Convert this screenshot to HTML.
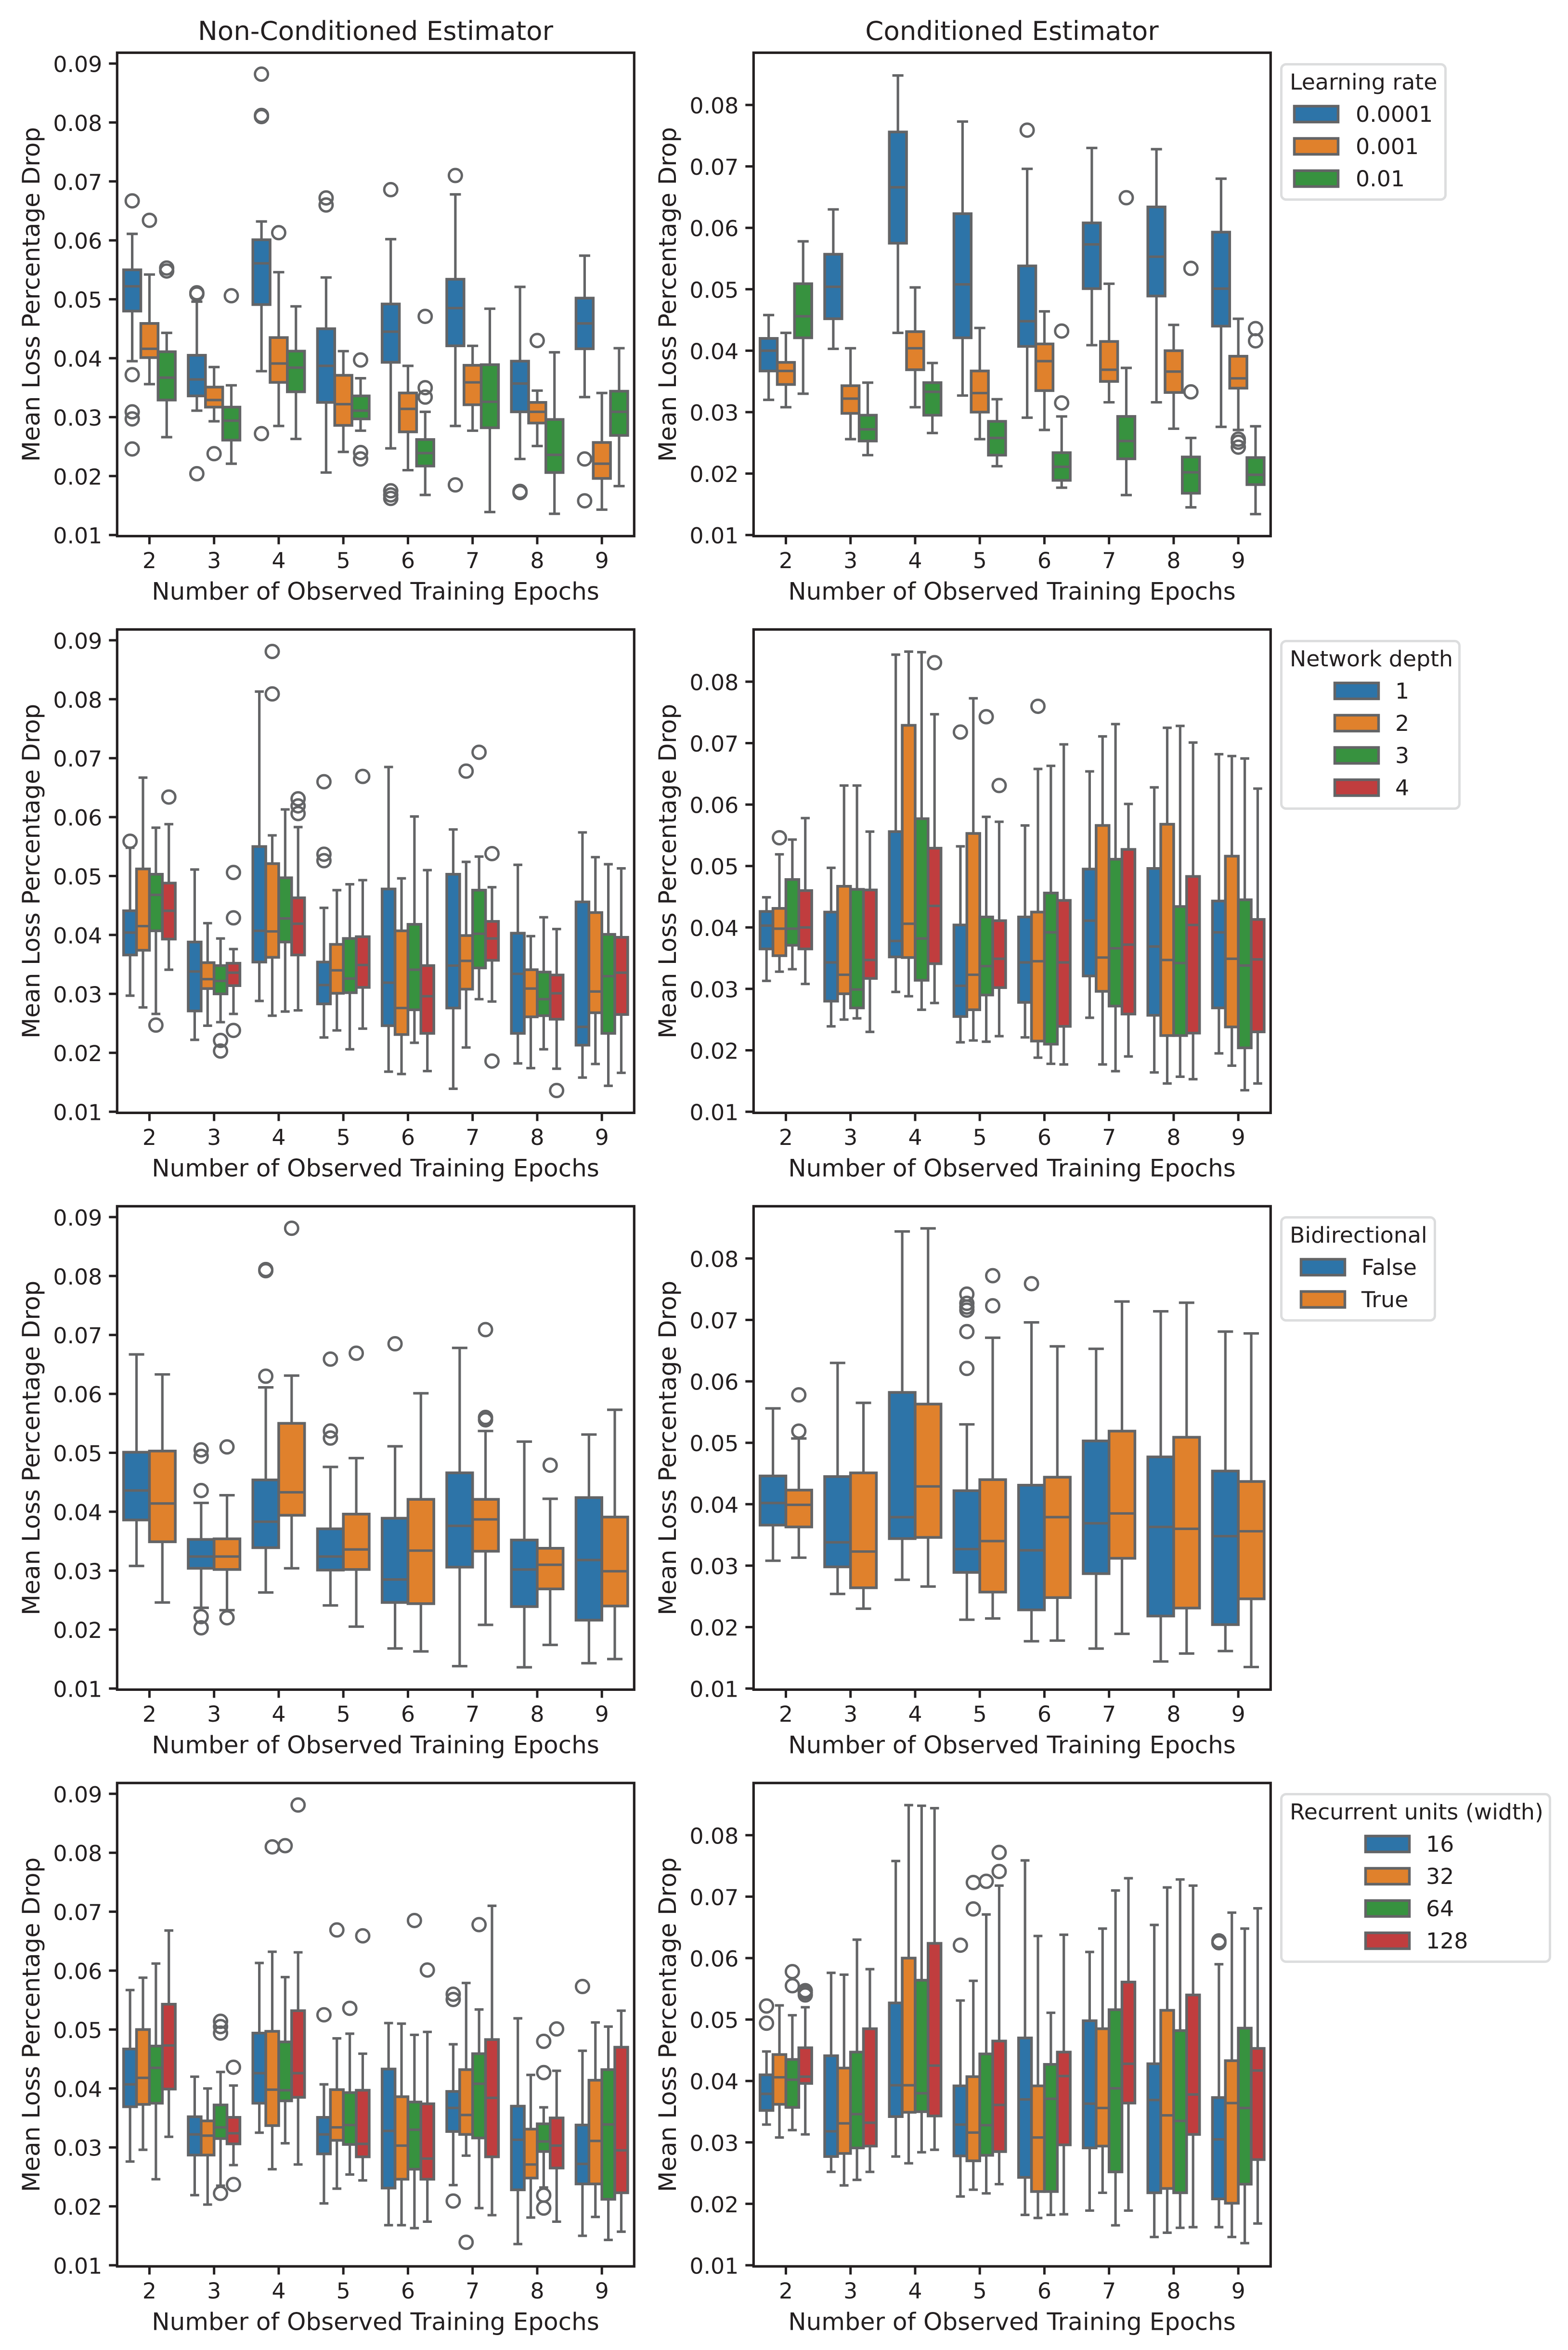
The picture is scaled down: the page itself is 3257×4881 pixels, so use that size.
<!DOCTYPE html>
<html lang="en">
<head>
<meta charset="utf-8">
<title>Mean Loss Percentage Drop by Observed Training Epochs</title>
<style>
html,body{margin:0;padding:0;background:#fff;}
svg{display:block;}
text{font-family:"DejaVu Sans","Liberation Sans",sans-serif;fill:#231f20;}
.title{font-size:54.6px;text-anchor:middle;}
.axis-label{font-size:50px;text-anchor:middle;}
.leg{font-size:45.8px;}
.leg-frame{fill:#fff;stroke:#dcddde;stroke-width:5;}
.leg-patch{stroke:#636466;stroke-width:5.5;}
</style>
</head>
<body>
<svg id="figure" xmlns="http://www.w3.org/2000/svg" width="3257" height="4881" viewBox="0 0 3257 4881">
<rect width="3257" height="4881" fill="#fff"/>
<g id="plots"></g>

<text class="title" x="780" y="83">Non-Conditioned Estimator</text>
<text class="title" x="2102" y="83">Conditioned Estimator</text>

<text class="axis-label" x="780" y="1245.7">Number of Observed Training Epochs</text>
<text class="axis-label" x="2102" y="1245.7">Number of Observed Training Epochs</text>
<text class="axis-label" x="780" y="2443.7">Number of Observed Training Epochs</text>
<text class="axis-label" x="2102" y="2443.7">Number of Observed Training Epochs</text>
<text class="axis-label" x="780" y="3641.7">Number of Observed Training Epochs</text>
<text class="axis-label" x="2102" y="3641.7">Number of Observed Training Epochs</text>
<text class="axis-label" x="780" y="4839.7">Number of Observed Training Epochs</text>
<text class="axis-label" x="2102" y="4839.7">Number of Observed Training Epochs</text>

<text class="axis-label" transform="translate(82 611.5) rotate(-90)">Mean Loss Percentage Drop</text>
<text class="axis-label" transform="translate(1404 611.5) rotate(-90)">Mean Loss Percentage Drop</text>
<text class="axis-label" transform="translate(82 1809.4) rotate(-90)">Mean Loss Percentage Drop</text>
<text class="axis-label" transform="translate(1404 1809.4) rotate(-90)">Mean Loss Percentage Drop</text>
<text class="axis-label" transform="translate(82 3007.4) rotate(-90)">Mean Loss Percentage Drop</text>
<text class="axis-label" transform="translate(1404 3007.4) rotate(-90)">Mean Loss Percentage Drop</text>
<text class="axis-label" transform="translate(82 4205.3) rotate(-90)">Mean Loss Percentage Drop</text>
<text class="axis-label" transform="translate(1404 4205.3) rotate(-90)">Mean Loss Percentage Drop</text>

<g>
<rect class="leg-frame" x="2661.5" y="133.5" width="341" height="281" rx="10"/>
<text class="leg" x="2679" y="186">Learning rate</text>
<rect class="leg-patch" x="2688.5" y="220.5" width="91" height="33" fill="#2d74a8"/>
<text class="leg" x="2816" y="253">0.0001</text>
<rect class="leg-patch" x="2688.5" y="287.5" width="91" height="33" fill="#e0812c"/>
<text class="leg" x="2816" y="320">0.001</text>
<rect class="leg-patch" x="2688.5" y="354.5" width="91" height="33" fill="#37923f"/>
<text class="leg" x="2816" y="387">0.01</text>
</g>

<g>
<rect class="leg-frame" x="2661.5" y="1331.5" width="370" height="348" rx="10"/>
<text class="leg" x="2679" y="1384">Network depth</text>
<rect class="leg-patch" x="2772.5" y="1418.5" width="91" height="33" fill="#2d74a8"/>
<text class="leg" x="2898" y="1451">1</text>
<rect class="leg-patch" x="2772.5" y="1485.5" width="91" height="33" fill="#e0812c"/>
<text class="leg" x="2898" y="1518">2</text>
<rect class="leg-patch" x="2772.5" y="1552.5" width="91" height="33" fill="#37923f"/>
<text class="leg" x="2898" y="1585">3</text>
<rect class="leg-patch" x="2772.5" y="1619.5" width="91" height="33" fill="#c03d3e"/>
<text class="leg" x="2898" y="1652">4</text>
</g>

<g>
<rect class="leg-frame" x="2661.5" y="2528.5" width="319" height="214" rx="10"/>
<text class="leg" x="2679" y="2581">Bidirectional</text>
<rect class="leg-patch" x="2702.5" y="2615.5" width="91" height="33" fill="#2d74a8"/>
<text class="leg" x="2828" y="2648">False</text>
<rect class="leg-patch" x="2702.5" y="2682.5" width="91" height="33" fill="#e0812c"/>
<text class="leg" x="2828" y="2715">True</text>
</g>

<g>
<rect class="leg-frame" x="2661.5" y="3726.5" width="558" height="348" rx="10"/>
<text class="leg" x="2679" y="3779">Recurrent units (width)</text>
<rect class="leg-patch" x="2836.5" y="3813.5" width="91" height="33" fill="#2d74a8"/>
<text class="leg" x="2962" y="3846">16</text>
<rect class="leg-patch" x="2836.5" y="3880.5" width="91" height="33" fill="#e0812c"/>
<text class="leg" x="2962" y="3913">32</text>
<rect class="leg-patch" x="2836.5" y="3947.5" width="91" height="33" fill="#37923f"/>
<text class="leg" x="2962" y="3980">64</text>
<rect class="leg-patch" x="2836.5" y="4014.5" width="91" height="33" fill="#c03d3e"/>
<text class="leg" x="2962" y="4047">128</text>
</g>
</svg>

<script>
// Shared categories and tick labels
const epochLabels = ['2','3','4','5','6','7','8','9'];
const leftTickLabels = ['0.01','0.02','0.03','0.04','0.05','0.06','0.07','0.08','0.09'];
const rightTickLabels = ['0.01','0.02','0.03','0.04','0.05','0.06','0.07','0.08'];

// Each row: [whisker low, q1, median, q3, whisker high, outliers], one row per epoch.
// Row 1, non-conditioned, by learning rate
const nonCondLr0001 = [
[.0395,.0480,.0522,.0550,.0611,[.0667,.0372,.0309,.0297,.0246]],
[.0311,.0336,.0364,.0405,.0496,[.0511,.0509,.0204]],
[.0378,.0491,.0561,.0601,.0632,[.0882,.0812,.0810,.0272]],
[.0206,.0325,.0387,.0450,.0537,[.0672,.0660]],
[.0247,.0393,.0445,.0492,.0602,[.0686,.0175,.0168,.0162]],
[.0285,.0421,.0485,.0534,.0678,[.0710,.0185]],
[.0229,.0309,.0357,.0395,.0521,[.0174,.0172]],
[.0334,.0416,.0459,.0502,.0574,[.0229,.0158]]];
const nonCondLr001 = [
[.0356,.0401,.0416,.0459,.0542,[.0634]],
[.0293,.0317,.0329,.0351,.0385,[.0238]],
[.0285,.0359,.0391,.0435,.0546,[.0613]],
[.0241,.0286,.0322,.0371,.0412,[]],
[.0210,.0275,.0314,.0341,.0387,[]],
[.0277,.0321,.0359,.0388,.0421,[]],
[.0251,.0290,.0309,.0325,.0345,[.0430]],
[.0143,.0196,.0221,.0257,.0341,[]]];
const nonCondLr01 = [
[.0266,.0329,.0367,.0411,.0443,[.0553,.0548]],
[.0221,.0261,.0294,.0317,.0354,[.0506]],
[.0263,.0343,.0384,.0412,.0488,[]],
[.0277,.0297,.0311,.0336,.0366,[.0397,.0240,.0229]],
[.0168,.0217,.0239,.0262,.0309,[.0471,.0350,.0334]],
[.0139,.0282,.0326,.0389,.0484,[]],
[.0136,.0206,.0236,.0296,.0410,[]],
[.0183,.0269,.0309,.0344,.0417,[]]];

// Row 1, conditioned, by learning rate
const condLr0001 = [
[.0320,.0367,.0400,.0420,.0458,[]],
[.0403,.0452,.0504,.0557,.0630,[]],
[.0429,.0575,.0666,.0756,.0848,[]],
[.0327,.0421,.0508,.0623,.0773,[]],
[.0291,.0407,.0448,.0538,.0696,[.0759]],
[.0409,.0501,.0573,.0608,.0730,[]],
[.0316,.0489,.0553,.0634,.0728,[]],
[.0276,.0440,.0501,.0593,.0680,[]]];
const condLr001 = [
[.0308,.0345,.0367,.0381,.0429,[]],
[.0256,.0298,.0322,.0343,.0404,[]],
[.0308,.0369,.0404,.0431,.0503,[]],
[.0256,.0300,.0331,.0367,.0437,[]],
[.0271,.0335,.0383,.0411,.0464,[]],
[.0316,.0350,.0369,.0415,.0509,[]],
[.0273,.0332,.0366,.0400,.0442,[]],
[.0271,.0339,.0355,.0391,.0452,[.0256,.0251,.0243]]];
const condLr01 = [
[.0330,.0421,.0456,.0509,.0578,[]],
[.0230,.0253,.0272,.0295,.0348,[]],
[.0266,.0295,.0333,.0348,.0380,[]],
[.0212,.0230,.0258,.0285,.0321,[]],
[.0177,.0189,.0211,.0234,.0293,[.0432,.0315]],
[.0165,.0224,.0253,.0293,.0372,[.0649]],
[.0145,.0168,.0202,.0227,.0258,[.0534,.0333]],
[.0134,.0182,.0198,.0226,.0277,[.0436,.0416]]];

// Row 2, non-conditioned, by network depth
const nonCondDepth1 = [
[.0297,.0366,.0404,.0441,.0548,[.0559]],
[.0222,.0271,.0338,.0388,.0511,[]],
[.0288,.0354,.0407,.0550,.0813,[]],
[.0226,.0283,.0315,.0354,.0446,[.0660,.0537,.0526]],
[.0168,.0246,.0319,.0478,.0685,[]],
[.0139,.0276,.0348,.0503,.0579,[]],
[.0182,.0233,.0334,.0403,.0519,[]],
[.0158,.0213,.0244,.0456,.0574,[]]];
const nonCondDepth2 = [
[.0277,.0374,.0415,.0512,.0667,[]],
[.0246,.0309,.0325,.0353,.0420,[]],
[.0263,.0362,.0406,.0521,.0569,[.0881,.0809]],
[.0238,.0301,.0340,.0384,.0476,[]],
[.0164,.0231,.0276,.0407,.0496,[]],
[.0209,.0308,.0356,.0399,.0524,[.0678]],
[.0174,.0261,.0309,.0341,.0398,[]],
[.0181,.0268,.0304,.0438,.0532,[]]];
const nonCondDepth3 = [
[.0266,.0407,.0468,.0503,.0582,[.0247]],
[.0252,.0300,.0322,.0348,.0394,[.0221,.0203]],
[.0270,.0388,.0428,.0497,.0613,[]],
[.0206,.0302,.0326,.0394,.0486,[]],
[.0217,.0273,.0341,.0418,.0601,[]],
[.0291,.0344,.0402,.0476,.0533,[.0710]],
[.0206,.0263,.0291,.0337,.0430,[]],
[.0144,.0233,.0330,.0401,.0520,[]]];
const nonCondDepth4 = [
[.0341,.0393,.0441,.0488,.0588,[.0634]],
[.0266,.0314,.0336,.0352,.0376,[.0506,.0429,.0238]],
[.0272,.0366,.0419,.0463,.0583,[.0631,.0619,.0606]],
[.0241,.0311,.0349,.0397,.0493,[.0669]],
[.0169,.0233,.0296,.0348,.0510,[]],
[.0287,.0357,.0394,.0423,.0481,[.0538,.0186]],
[.0173,.0257,.0301,.0332,.0410,[.0136]],
[.0166,.0265,.0336,.0396,.0513,[]]];

// Row 2, conditioned, by network depth
const condDepth1 = [
[.0313,.0365,.0403,.0426,.0449,[]],
[.0239,.0280,.0343,.0425,.0497,[]],
[.0295,.0352,.0378,.0556,.0844,[]],
[.0213,.0255,.0305,.0404,.0532,[.0718]],
[.0221,.0278,.0343,.0417,.0566,[]],
[.0253,.0321,.0411,.0495,.0654,[]],
[.0164,.0257,.0369,.0496,.0628,[]],
[.0195,.0269,.0392,.0443,.0682,[]]];
const condDepth2 = [
[.0328,.0354,.0398,.0431,.0519,[.0546]],
[.0250,.0292,.0323,.0467,.0631,[]],
[.0288,.0351,.0406,.0729,.0849,[]],
[.0216,.0266,.0323,.0553,.0773,[]],
[.0188,.0215,.0345,.0425,.0658,[.0760]],
[.0177,.0296,.0351,.0566,.0711,[]],
[.0146,.0224,.0347,.0568,.0725,[]],
[.0175,.0238,.0349,.0516,.0679,[]]];
const condDepth3 = [
[.0332,.0371,.0398,.0478,.0543,[]],
[.0252,.0269,.0299,.0462,.0631,[]],
[.0266,.0314,.0382,.0577,.0848,[]],
[.0214,.0290,.0337,.0417,.0580,[.0743]],
[.0178,.0210,.0392,.0456,.0663,[]],
[.0166,.0272,.0366,.0511,.0731,[]],
[.0157,.0224,.0342,.0434,.0728,[]],
[.0135,.0204,.0338,.0445,.0675,[]]];
const condDepth4 = [
[.0308,.0365,.0400,.0460,.0578,[]],
[.0230,.0317,.0347,.0461,.0556,[]],
[.0277,.0341,.0435,.0529,.0747,[.0831]],
[.0223,.0302,.0349,.0411,.0572,[.0631]],
[.0177,.0239,.0343,.0444,.0698,[]],
[.0190,.0259,.0372,.0527,.0601,[]],
[.0153,.0228,.0404,.0483,.0701,[]],
[.0146,.0230,.0348,.0413,.0626,[]]];

// Row 3, non-conditioned, by bidirectional
const nonCondBiFalse = [
[.0308,.0386,.0436,.0501,.0667,[]],
[.0237,.0304,.0324,.0353,.0415,[.0505,.0494,.0436,.0222,.0203]],
[.0263,.0339,.0383,.0454,.0611,[.0811,.0809,.0630]],
[.0241,.0301,.0324,.0371,.0476,[.0659,.0537,.0525]],
[.0168,.0246,.0285,.0389,.0511,[.0685]],
[.0138,.0306,.0376,.0466,.0678,[]],
[.0136,.0239,.0302,.0352,.0519,[]],
[.0143,.0216,.0318,.0424,.0531,[]]];
const nonCondBiTrue = [
[.0246,.0349,.0414,.0503,.0633,[]],
[.0233,.0302,.0324,.0354,.0428,[.0510,.0220]],
[.0304,.0394,.0433,.0550,.0631,[.0881]],
[.0205,.0302,.0336,.0396,.0491,[.0669]],
[.0163,.0244,.0334,.0421,.0601,[]],
[.0208,.0333,.0387,.0421,.0537,[.0709,.0560,.0556]],
[.0174,.0269,.0310,.0338,.0422,[.0479]],
[.0150,.0240,.0299,.0391,.0573,[]]];

// Row 3, conditioned, by bidirectional
const condBiFalse = [
[.0308,.0366,.0402,.0446,.0556,[]],
[.0254,.0298,.0338,.0445,.0630,[]],
[.0277,.0344,.0379,.0582,.0844,[]],
[.0212,.0289,.0327,.0422,.0530,[.0742,.0727,.0721,.0716,.0681,.0621]],
[.0177,.0228,.0325,.0431,.0696,[.0759]],
[.0165,.0287,.0369,.0503,.0653,[]],
[.0144,.0218,.0363,.0477,.0714,[]],
[.0161,.0204,.0348,.0454,.0681,[]]];
const condBiTrue = [
[.0313,.0363,.0399,.0423,.0507,[.0578,.0519]],
[.0230,.0264,.0323,.0451,.0565,[]],
[.0266,.0346,.0429,.0563,.0849,[]],
[.0214,.0257,.0340,.0440,.0671,[.0772,.0723]],
[.0178,.0248,.0379,.0444,.0657,[]],
[.0189,.0312,.0385,.0519,.0730,[]],
[.0157,.0231,.0360,.0509,.0728,[]],
[.0135,.0246,.0356,.0437,.0678,[]]];

// Row 4, non-conditioned, by recurrent width
const nonCondWidth16 = [
[.0276,.0369,.0407,.0467,.0567,[]],
[.0219,.0287,.0322,.0352,.0420,[]],
[.0325,.0375,.0426,.0494,.0613,[]],
[.0205,.0289,.0322,.0351,.0407,[.0525]],
[.0168,.0231,.0328,.0433,.0511,[]],
[.0236,.0327,.0367,.0395,.0475,[.0560,.0551,.0209]],
[.0136,.0228,.0313,.0370,.0519,[]],
[.0150,.0238,.0272,.0338,.0464,[.0573]]];
const nonCondWidth32 = [
[.0296,.0373,.0418,.0500,.0588,[]],
[.0203,.0287,.0320,.0345,.0400,[]],
[.0263,.0337,.0398,.0497,.0632,[.0810]],
[.0230,.0312,.0334,.0398,.0485,[.0669]],
[.0168,.0246,.0303,.0386,.0510,[]],
[.0286,.0322,.0355,.0432,.0579,[.0139]],
[.0181,.0248,.0271,.0331,.0423,[]],
[.0182,.0238,.0311,.0414,.0512,[]]];
const nonCondWidth64 = [
[.0246,.0375,.0435,.0472,.0612,[]],
[.0235,.0315,.0334,.0372,.0428,[.0514,.0505,.0494,.0222]],
[.0307,.0379,.0397,.0479,.0589,[.0812]],
[.0254,.0305,.0338,.0393,.0493,[.0536]],
[.0163,.0263,.0330,.0377,.0491,[.0685]],
[.0197,.0316,.0408,.0459,.0534,[.0678]],
[.0232,.0293,.0310,.0340,.0368,[.0480,.0427,.0219,.0197]],
[.0143,.0212,.0339,.0432,.0505,[]]];
const nonCondWidth128 = [
[.0318,.0399,.0473,.0543,.0668,[]],
[.0270,.0306,.0324,.0351,.0405,[.0436,.0237]],
[.0271,.0385,.0426,.0532,.0631,[.0881]],
[.0244,.0284,.0306,.0397,.0459,[.0659]],
[.0174,.0246,.0281,.0374,.0496,[.0601]],
[.0185,.0284,.0384,.0483,.0710,[]],
[.0174,.0265,.0303,.0350,.0430,[.0501]],
[.0157,.0223,.0295,.0470,.0532,[]]];

// Row 4, conditioned, by recurrent width
const condWidth16 = [
[.0329,.0352,.0379,.0410,.0448,[.0522,.0494]],
[.0252,.0277,.0318,.0441,.0576,[]],
[.0277,.0342,.0393,.0527,.0758,[]],
[.0212,.0278,.0329,.0392,.0531,[.0621]],
[.0182,.0243,.0370,.0470,.0759,[]],
[.0189,.0291,.0363,.0498,.0610,[]],
[.0146,.0218,.0369,.0428,.0654,[]],
[.0162,.0208,.0305,.0373,.0590,[.0628,.0625]]];
const condWidth32 = [
[.0308,.0362,.0406,.0443,.0523,[]],
[.0230,.0282,.0331,.0421,.0573,[]],
[.0266,.0349,.0393,.0600,.0849,[]],
[.0223,.0270,.0316,.0407,.0563,[.0723,.0680]],
[.0177,.0220,.0308,.0392,.0636,[]],
[.0218,.0294,.0356,.0485,.0648,[]],
[.0153,.0225,.0344,.0515,.0715,[]],
[.0146,.0201,.0364,.0433,.0674,[]]];
const condWidth64 = [
[.0320,.0357,.0402,.0435,.0507,[.0578,.0555]],
[.0239,.0291,.0346,.0447,.0630,[]],
[.0284,.0350,.0380,.0564,.0848,[]],
[.0217,.0279,.0328,.0444,.0671,[.0725]],
[.0182,.0220,.0371,.0427,.0511,[]],
[.0165,.0252,.0388,.0516,.0710,[]],
[.0161,.0218,.0335,.0482,.0728,[]],
[.0136,.0232,.0356,.0486,.0648,[]]];
const condWidth128 = [
[.0313,.0396,.0407,.0454,.0520,[.0547,.0544,.0540]],
[.0252,.0294,.0332,.0485,.0582,[]],
[.0288,.0343,.0425,.0624,.0844,[]],
[.0232,.0285,.0361,.0465,.0718,[.0772,.0741]],
[.0183,.0296,.0408,.0447,.0638,[]],
[.0189,.0364,.0428,.0561,.0730,[]],
[.0162,.0313,.0378,.0540,.0718,[]],
[.0168,.0272,.0417,.0453,.0681,[]]];

// Groupings of series per panel (row, column, series in hue order)
const panelSeries = [
  [0,0,[nonCondLr0001,nonCondLr001,nonCondLr01]],
  [0,1,[condLr0001,condLr001,condLr01]],
  [1,0,[nonCondDepth1,nonCondDepth2,nonCondDepth3,nonCondDepth4]],
  [1,1,[condDepth1,condDepth2,condDepth3,condDepth4]],
  [2,0,[nonCondBiFalse,nonCondBiTrue]],
  [2,1,[condBiFalse,condBiTrue]],
  [3,0,[nonCondWidth16,nonCondWidth32,nonCondWidth64,nonCondWidth128]],
  [3,1,[condWidth16,condWidth32,condWidth64,condWidth128]]
];
const hueColors = ['#2d74a8','#e0812c','#37923f','#c03d3e'];

// Layout and axis functions
const LINE = '#636466', INK = '#231f20', NS = 'http://www.w3.org/2000/svg';
const colLeft = [243.3, 1565.3], rowTop = [109.5, 1307.4, 2505.4, 3703.3];
const plotW = 1074, plotH = 1004, yMin = 0.01, unitsPerPx = [12240, 12760];
function xAxis(col, cat, hue, n) {
  const step = plotW / 8;
  return colLeft[col] + (cat + 0.5) * step + (hue - (n - 1) / 2) * (0.8 / n) * step;
}
function yAxis(row, col, v) {
  return rowTop[row] + plotH - 2.3 - (v - yMin) * unitsPerPx[col];
}
function make(tag, attrs, parent) {
  const el = document.createElementNS(NS, tag);
  for (const k in attrs) el.setAttribute(k, attrs[k]);
  parent.appendChild(el);
  return el;
}
function seg(parent, x1, y1, x2, y2, cap) {
  return make('line', {x1, y1, x2, y2, stroke: LINE, 'stroke-width': 5.2, 'stroke-linecap': cap || 'butt'}, parent);
}

const plots = document.getElementById('plots');
panelSeries.forEach(function (panel) {
  const row = panel[0], col = panel[1], series = panel[2], n = series.length;
  const left = colLeft[col], top = rowTop[row], bottom = top + plotH;
  const g = make('g', {}, plots);
  
  

  const boxW = (0.8 / n) * (plotW / 8);
  series.forEach(function (rows, hue) {
    rows.forEach(function (d, cat) {
      const cx = xAxis(col, cat, hue, n);
      const y = function (v) { return yAxis(row, col, v); };
      const b = make('g', {}, g);
      
      
      seg(b, cx, y(d[1]), cx, y(d[0]));
      seg(b, cx, y(d[3]), cx, y(d[4]));
      seg(b, cx - boxW * 0.25, y(d[0]), cx + boxW * 0.25, y(d[0]), 'square');
      seg(b, cx - boxW * 0.25, y(d[4]), cx + boxW * 0.25, y(d[4]), 'square');
      make('rect', {x: cx - boxW / 2, y: y(d[3]), width: boxW, height: y(d[1]) - y(d[3]),
        fill: hueColors[hue], stroke: LINE, 'stroke-width': 5.6}, b);
      seg(b, cx - boxW / 2, y(d[2]), cx + boxW / 2, y(d[2]));
      d[5].forEach(function (v) {
        const flier = make('circle', {cx: cx, cy: y(v), r: 13.5, fill: 'none', stroke: LINE, 'stroke-width': 5}, b);
        
        
      });
    });
  });

  const frame = make('rect', {x: left, y: top, width: plotW, height: plotH, fill: 'none', stroke: INK, 'stroke-width': 5.2}, g);
  
  

  epochLabels.forEach(function (label, cat) {
    const x = xAxis(col, cat, 0, 1);
    make('line', {x1: x, y1: bottom, x2: x, y2: bottom + 17, stroke: INK, 'stroke-width': 5}, g);
    const t = make('text', {x: x, y: bottom + 66.7, 'font-size': 45.8, 'text-anchor': 'middle'}, g);
    t.textContent = label;
    
    
  });
  (col === 0 ? leftTickLabels : rightTickLabels).forEach(function (label) {
    const y = yAxis(row, col, Number(label));
    make('line', {x1: left, y1: y, x2: left - 17, y2: y, stroke: INK, 'stroke-width': 5}, g);
    const t = make('text', {x: left - 31, y: y + 17.5, 'font-size': 45.8, 'text-anchor': 'end'}, g);
    t.textContent = label;
    
    
  });
});
</script>
</body>
</html>
